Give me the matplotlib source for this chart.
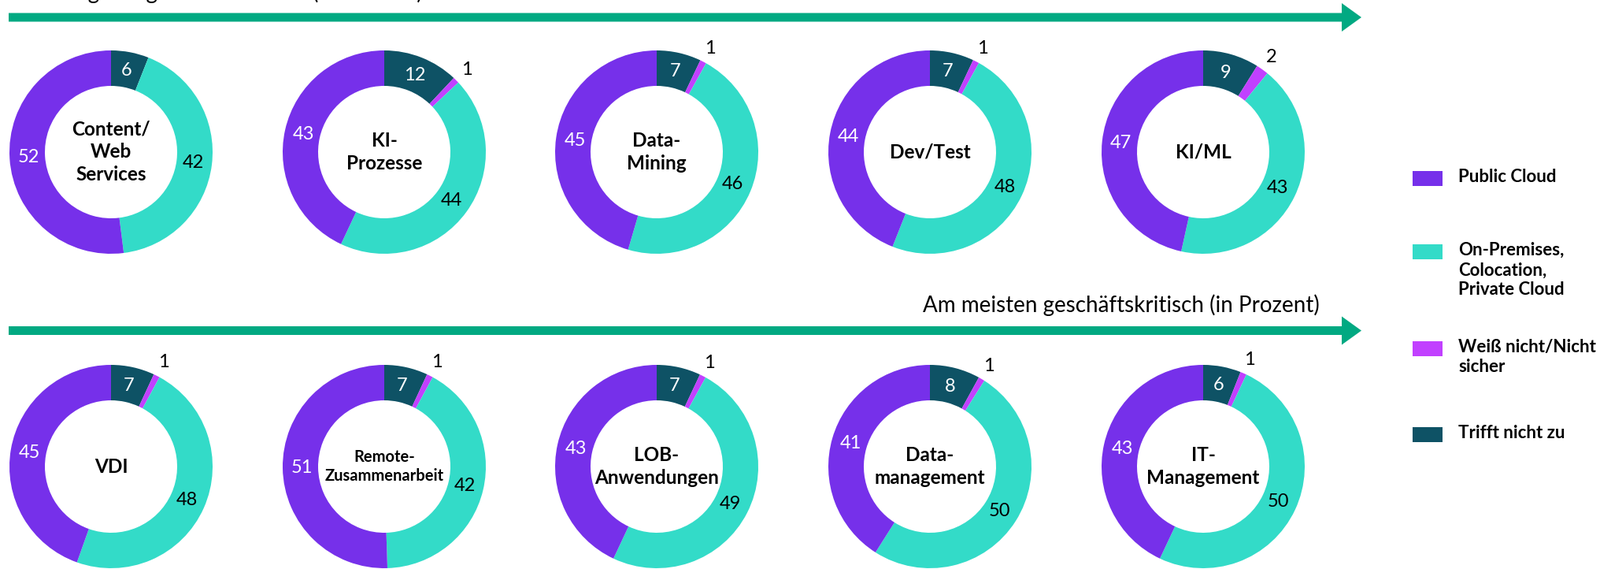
"""Donut grid: workload placement by business criticality."""

import matplotlib

matplotlib.use("Agg")
import matplotlib.pyplot as plt
from matplotlib.patches import FancyArrow, Rectangle
import numpy as np

# --- data -------------------------------------------------------------------
names_top = ["Content/\nWeb\nServices", "KI-\nProzesse", "Data-\nMining", "Dev/Test", "KI/ML"]
trifft_top = [6, 12, 7, 7, 9]
weiss_top = [0, 1, 1, 1, 2]
onprem_top = [42, 44, 46, 48, 43]
public_top = [52, 43, 45, 44, 47]

names_bottom = ["VDI", "Remote-\nZusammenarbeit", "LOB-\nAnwendungen", "Data-\nmanagement", "IT-\nManagement"]
trifft_bottom = [7, 7, 7, 8, 6]
weiss_bottom = [1, 1, 1, 1, 1]
onprem_bottom = [48, 42, 49, 50, 50]
public_bottom = [45, 51, 43, 41, 43]

legend_labels = ["Public Cloud", "On-Premises,\nColocation,\nPrivate Cloud", "Weiß nicht/Nicht\nsicher", "Trifft nicht zu"]

title_top = "Am wenigsten geschäftskritisch (in Prozent)"
title_bottom = "Am meisten geschäftskritisch (in Prozent)"

C_PUBLIC = "#7630EA"
C_ONPREM = "#33DBC8"
C_WEISS = "#C140FF"
C_TRIFFT = "#0E5265"
C_ARROW = "#01A982"

W, H = 2033, 722
FONT = ["Lato", "DejaVu Sans"]


def py(y):
    # pixel row (from top) -> data y
    return H - y


def draw_donut(ax, cx, cy, name, vals, name_size=17.5):
    colors = [C_TRIFFT, C_WEISS, C_ONPREM, C_PUBLIC]
    r_out, ring = 129, 45
    ax.pie(
        vals,
        center=(cx, py(cy)),
        radius=r_out,
        startangle=90,
        counterclock=False,
        colors=colors,
        wedgeprops=dict(width=ring, linewidth=0),
    )
    total = float(sum(vals))
    start = 0.0
    for i, v in enumerate(vals):
        if v == 0:
            continue
        mid = (start + v / 2) / total * 2 * np.pi
        start += v
        if i == 1:
            r, col = 148, "black"
        else:
            r, col = 105, "black" if i == 2 else "white"
        x = cx + r * np.sin(mid)
        y = py(cy) + r * np.cos(mid)
        ax.text(x, y, str(v), ha="center", va="center", fontsize=17, color=col, family=FONT)
    ax.text(cx, py(cy), name, ha="center", va="center", fontsize=name_size,
            fontweight="bold", family=FONT, linespacing=1.3)


def main():
    fig = plt.figure(figsize=(W / 100, H / 100), dpi=100)
    ax = fig.add_axes([0, 0, 1, 1])

    xs = [141, 488, 834, 1181, 1528]
    rows = [
        (193, names_top, trifft_top, weiss_top, onprem_top, public_top),
        (592, names_bottom, trifft_bottom, weiss_bottom, onprem_bottom, public_bottom),
    ]
    for cy, names, tr, we, on, pu in rows:
        for j, cx in enumerate(xs):
            size = 14.5 if "Zusammen" in names[j] else 17.5
            draw_donut(ax, cx, cy, names[j], [tr[j], we[j], on[j], pu[j]], size)

    # arrows
    for ay in (22, 419.5):
        ax.add_patch(FancyArrow(11, py(ay), 1718, 0, width=11, head_width=36, head_length=25,
                                length_includes_head=True, color=C_ARROW, linewidth=0))
    ax.text(537, py(-1), title_top, ha="right", va="baseline", fontsize=20, family=FONT)
    ax.text(1676, py(396), title_bottom, ha="right", va="baseline", fontsize=20, family=FONT)

    # legend
    leg_colors = [C_PUBLIC, C_ONPREM, C_WEISS, C_TRIFFT]
    leg_y = [217, 310, 433, 542]
    for col, lab, y0 in zip(leg_colors, legend_labels, leg_y):
        ax.add_patch(Rectangle((1794, py(y0 + 19)), 38, 19, color=col, linewidth=0))
        ax.text(1852, py(y0 - 3), lab, ha="left", va="top", fontsize=16, fontweight="bold",
                family=FONT, linespacing=1.25)

    ax.set_xlim(0, W)
    ax.set_ylim(0, H)
    ax.set_aspect("equal")
    ax.axis("off")
    fig.savefig("out.png", dpi=100)
    plt.close(fig)


if __name__ == "__main__":
    main()
